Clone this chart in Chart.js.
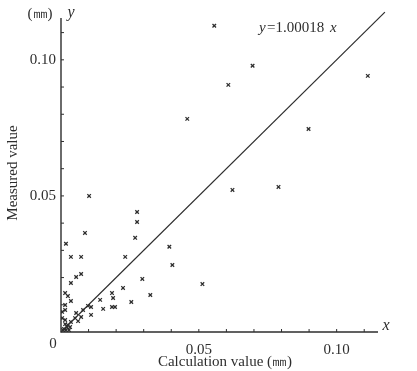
<!DOCTYPE html>
<html>
<head>
<meta charset="utf-8">
<script src="https://cdn.jsdelivr.net/npm/chart.js@4/dist/chart.umd.min.js"></script>
<style>
  html, body { margin: 0; padding: 0; background: #fff; }
  canvas { display: block; }
</style>
</head>
<body>
<canvas id="chart" width="417" height="371"></canvas>
<script>
const calcValues = [
    0.0556, 0.0695, 0.0607, 0.0458, 0.1113, 0.0898, 0.0622, 0.0789,
    0.0102, 0.0276, 0.0276, 0.0087, 0.0269, 0.0018, 0.0393, 0.0404,
    0.0233, 0.0036, 0.0073, 0.0295, 0.0513, 0.0324, 0.0225, 0.0185,
    0.0189, 0.0255, 0.0153, 0.0185, 0.0196, 0.0142, 0.0055, 0.0073,
    0.0036, 0.0015, 0.0025, 0.0036, 0.0015, 0.0015, 0.0109, 0.0098,
    0.0080, 0.0109, 0.0055, 0.0073, 0.0051, 0.0036, 0.0062, 0.0025,
    0.0015, 0.0015, 0.0022, 0.0011, 0.0033, 0.0007, 0.0018, 0.0029,
    0.0004, 0.0004
];
const measuredValues = [
    0.1125, 0.0978, 0.0908, 0.0783, 0.0941, 0.0746, 0.0522, 0.0533,
    0.0500, 0.0441, 0.0404, 0.0364, 0.0346, 0.0324, 0.0313, 0.0246,
    0.0276, 0.0276, 0.0276, 0.0195, 0.0176, 0.0136, 0.0162, 0.0143,
    0.0125, 0.0110, 0.0085, 0.0092, 0.0092, 0.0118, 0.0202, 0.0213,
    0.0180, 0.0143, 0.0132, 0.0114, 0.0099, 0.0081, 0.0092, 0.0096,
    0.0081, 0.0063, 0.0070, 0.0055, 0.0051, 0.0037, 0.0040, 0.0026,
    0.0044, 0.0029, 0.0018, 0.0011, 0.0018, 0.0007, 0.0007, 0.0007,
    0.0051, 0.0074
];

// fitted line y = 1.00018 x
const fitSlope = 1.00018;
const fitX = [0, 0.1175];

const axisMax = 0.115;
const minorStep = 0.01;
const xTickLabels = ['0.05', '0.10'];
const yTickLabels = ['0.05', '0.10'];

const ink = '#2e2e2e';
const serif = '"Liberation Serif", "Times New Roman", serif';

const points = calcValues.map((x, i) => ({ x, y: measuredValues[i] }));
const fitLine = fitX.map(x => ({ x, y: x * fitSlope }));

// hand drawn axes like the printed figure: ticks inside, labels only at 0.05 / 0.10
const axesPlugin = {
    id: 'axesPlugin',
    afterDatasetsDraw(chart) {
        const c = chart.ctx;
        const xs = chart.scales.x, ys = chart.scales.y;
        const x0 = xs.getPixelForValue(0), y0 = ys.getPixelForValue(0);
        const xEnd = xs.getPixelForValue(axisMax), yEnd = ys.getPixelForValue(axisMax);

        c.save();
        c.strokeStyle = ink;
        c.lineWidth = 1.4;
        c.beginPath();
        c.moveTo(x0, yEnd - 1); c.lineTo(x0, y0);
        c.lineTo(xEnd, y0);
        c.stroke();

        c.lineWidth = 1;
        c.beginPath();
        for (let v = minorStep; v < axisMax; v += minorStep) {
            const px = xs.getPixelForValue(v), py = ys.getPixelForValue(v);
            c.moveTo(px, y0); c.lineTo(px, y0 - 3);
            c.moveTo(x0, py); c.lineTo(x0 + 3, py);
        }
        c.stroke();

        c.fillStyle = ink;
        c.font = '15px ' + serif;
        c.textBaseline = 'middle';
        c.textAlign = 'right';
        yTickLabels.forEach(t => c.fillText(t, x0 - 5, ys.getPixelForValue(parseFloat(t))));
        c.textAlign = 'center';
        xTickLabels.forEach(t => c.fillText(t, xs.getPixelForValue(parseFloat(t)), y0 + 18));
        c.fillText('0', x0 - 8, y0 + 12);

        // axis names
        c.fillText('Calculation value (㎜)', 225, y0 + 30);
        c.fillText('(㎜)', 40, 14);
        c.font = 'italic 16px ' + serif;
        c.fillText('y', 71, 13);
        c.fillText('x', xEnd + 8, y0 - 6);

        c.save();
        c.translate(13, 173);
        c.rotate(-Math.PI / 2);
        c.font = '15px ' + serif;
        c.fillText('Measured value', 0, 0);
        c.restore();

        // equation label
        c.textAlign = 'left';
        c.font = 'italic 15px ' + serif;
        c.fillText('y', 259, 28);
        c.font = '15px ' + serif;
        c.fillText('=1.00018', 267, 28);
        c.font = 'italic 15px ' + serif;
        c.fillText('x', 330, 28);
        c.restore();
    }
};

new Chart(document.getElementById('chart'), {
    type: 'scatter',
    data: {
        datasets: [
            {
                data: points,
                pointStyle: 'crossRot',
                pointRadius: 2.5,
                borderColor: ink,
                borderWidth: 1.3,
                showLine: false
            },
            {
                type: 'line',
                data: fitLine,
                borderColor: ink,
                borderWidth: 1.2,
                pointRadius: 0,
                fill: false,
                clip: false
            }
        ]
    },
    options: {
        responsive: false,
        animation: false,
        layout: { padding: { left: 61, right: 39, top: 19, bottom: 39 } },
        plugins: { legend: { display: false }, tooltip: { enabled: false } },
        scales: {
            x: { type: 'linear', min: 0, max: axisMax, display: false },
            y: { type: 'linear', min: 0, max: axisMax, display: false }
        }
    },
    plugins: [axesPlugin]
});
</script>
</body>
</html>
